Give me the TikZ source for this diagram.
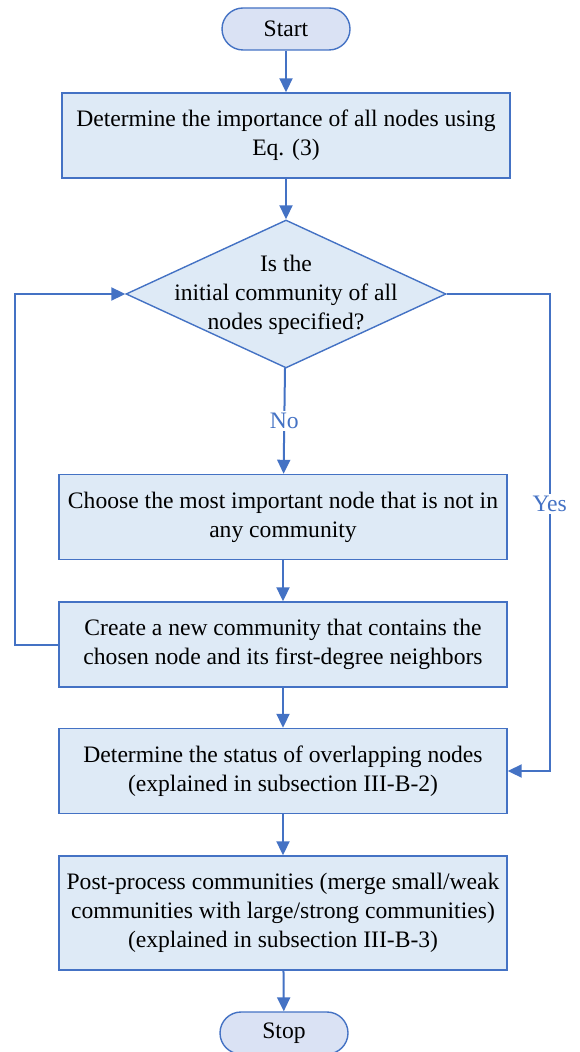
\documentclass[tikz,border=0pt]{standalone}
\usepackage{fontspec}
\setmainfont{Liberation Serif}
\usetikzlibrary{shapes.geometric,arrows.meta}

\definecolor{lineblue}{HTML}{4472C4}
\definecolor{boxfill}{HTML}{DEEAF6}
\definecolor{termfill}{HTML}{DAE2F4}

\tikzset{
    process/.style={draw=lineblue, line width=0.7pt, fill=boxfill, align=center,
        minimum width=224pt, minimum height=42.5pt, inner sep=2pt},
    terminal/.style={draw=lineblue, line width=0.7pt, fill=termfill,
        rounded corners=10.5pt, minimum width=64pt, minimum height=21pt},
    decision/.style={draw=lineblue, line width=0.7pt, fill=boxfill, diamond,
        minimum width=160pt, minimum height=74pt, inner sep=0pt},
    flow/.style={draw=lineblue, line width=1pt, -{Triangle[length=7pt,width=6.5pt]}},
    answer/.style={text=lineblue, fill=white, inner sep=1pt}
}

\begin{document}
\begin{tikzpicture}[x=0.5pt, y=-0.5pt, font=\fontsize{11.8}{14.5}\selectfont]
        \useasboundingbox (0,0) rectangle (579,1052);

        % Draw the steps of the flowchart
        \node[terminal] (start) at (286, 29) {Start};
        \node[process] (importance) at (286, 135.5) {Determine the importance of all nodes using\\Eq. (3)};
        \node[decision] (check) at (286, 294) {\raisebox{-7pt}{\makebox[0pt]{\smash{\begin{tabular}{@{}c@{}}Is the\\initial community of all\\nodes specified?\end{tabular}}}}};
        \node[process] (choose) at (283, 517) {Choose the most important node that is not in\\any community};
        \node[process] (create) at (283, 644.5) {Create a new community that contains the\\chosen node and its first-degree neighbors};
        \node[process] (status) at (283, 771) {Determine the status of overlapping nodes\\(explained in subsection III-B-2)};
        \node[process, minimum height=57pt] (postproc) at (283, 913) {Post-process communities (merge small/weak\\communities with large/strong communities)\\(explained in subsection III-B-3)};
        \node[terminal] (stop) at (284, 1033) {Stop};

        % Draw the arrows between the steps
        \draw[flow] (start) -- (importance);
        \draw[flow] (importance) -- (check);
        \draw[flow] (check) -- node[answer] {No} (choose);
        \draw[flow] (choose) -- (create);
        \draw[flow] (create) -- (status);
        \draw[flow] (status) -- (postproc);
        \draw[flow] (postproc) -- (stop);

        % Loop back and the Yes branch
        \draw[flow] (create.west) -- ++(-43, 0) |- (check.west);
        \draw[flow] (check.east) -- ++(103, 0) |- node[answer, pos=0.22] {Yes} (status.east);
    \end{tikzpicture}
\end{document}
